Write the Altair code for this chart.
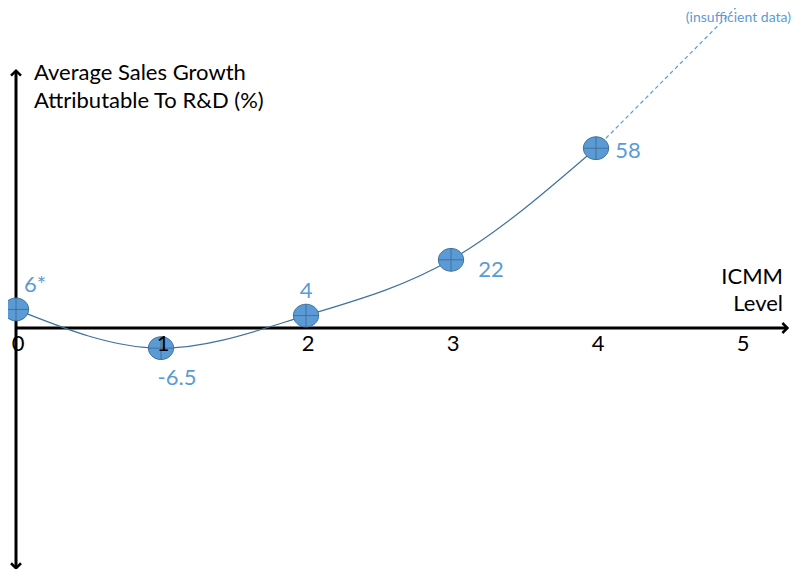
import altair as alt
import pandas as pd

# ---- data ----
levels = [0, 1, 2, 3, 4]
growth = [6, -6.5, 4, 22, 58]
point_labels = ["6*", "-6.5", "4", "22", "58"]
tick_levels = [0, 1, 2, 3, 4, 5]
ext_levels = [4, 5.0]
ext_growth = [58, 105]

# ---- layout / style ----
W, H = 785, 561
X0, PXX = 8, 145.0          # pixel of level 0, pixels per level
Y0, PXY = 320, 3.1          # pixel of growth 0, pixels per %
xdom = [-X0 / PXX, (W - X0) / PXX]
ydom = [-(H - Y0) / PXY, Y0 / PXY]
xs = alt.Scale(domain=xdom, nice=False, zero=False)
ys = alt.Scale(domain=ydom, nice=False, zero=False)
FONT = "Lato"
BLUE = "#5B9BD5"
DARK = "#41719C"
label_offsets = [(19, -24), (16, 30), (0, -25), (40, 10), (32, 3)]

pts = pd.DataFrame({"level": levels, "growth": growth, "label": point_labels})
ext = pd.DataFrame({"level": ext_levels, "growth": ext_growth})
ticks = pd.DataFrame({"level": tick_levels, "t": [str(t) for t in tick_levels]})

X = lambda f="level": alt.X(f, type="quantitative", scale=xs, axis=None)
Y = lambda f="growth": alt.Y(f, type="quantitative", scale=ys, axis=None)

# axes (arrows)
yaxis = pd.DataFrame({"level": [0], "y1": [-77.5], "y2": [83.0]})
xaxis = pd.DataFrame({"growth": [0], "x1": [0], "x2": [5.32]})
y_rule = alt.Chart(yaxis).mark_rule(color="black", strokeWidth=3).encode(
    x=X(), y=Y("y1"), y2="y2")
x_rule = alt.Chart(xaxis).mark_rule(color="black", strokeWidth=3).encode(
    y=Y(), x=X("x1"), x2="x2")
up = alt.Chart(yaxis).mark_point(shape="M-1,1L0,0L1,1", filled=False, size=100,
                                 color="black", strokeWidth=2.5, opacity=1).encode(x=X(), y=Y("y2"))
down = alt.Chart(yaxis).mark_point(shape="M-1,-1L0,0L1,-1", filled=False, size=100,
                                   color="black", strokeWidth=2.5, opacity=1).encode(x=X(), y=Y("y1"))
right = alt.Chart(xaxis).mark_point(shape="M-1,-1L0,0L-1,1", filled=False, size=100,
                                    color="black", strokeWidth=2.5, opacity=1).encode(x=X("x2"), y=Y())

tick_text = alt.Chart(ticks).mark_text(font=FONT, fontSize=22, color="black", dx=2,
                                       baseline="middle", align="center").encode(
    x=X(), y=alt.value(336), text="t:N")

curve = alt.Chart(pts).mark_line(color=DARK, strokeWidth=1.2, interpolate="monotone").encode(
    x=X(), y=Y())
dashed = alt.Chart(ext).mark_line(color=BLUE, strokeWidth=1.2, strokeDash=[4, 3]).encode(
    x=X(), y=Y())

ellipse = "M-1,0A1,0.9 0 1,1 1,0A1,0.9 0 1,1 -1,0Z"
markers = alt.Chart(pts).mark_point(shape=ellipse, filled=True, size=640, fill=BLUE,
                                    stroke=DARK, strokeWidth=1, opacity=1, fillOpacity=1).encode(
    x=X(), y=Y())
cross = alt.Chart(pts).mark_point(shape="M-1,0L1,0M0,-0.9L0,0.9", filled=False, size=640,
                                  color=DARK, strokeWidth=1, opacity=1).encode(x=X(), y=Y())

lbls = []
for lv, (dx, dy) in zip(levels, label_offsets):
    lbls.append(alt.Chart(pts).transform_filter(alt.datum.level == lv).mark_text(
        font=FONT, fontSize=22, color=BLUE, dx=dx, dy=dy, align="center", baseline="middle"
    ).encode(x=X(), y=Y(), text="label:N"))

def txt(s, x, y, align="left", size=22, color="black", baseline="alphabetic"):
    return alt.Chart(pd.DataFrame({"s": [s]})).mark_text(
        font=FONT, fontSize=size, color=color, align=align, baseline=baseline
    ).encode(x=alt.value(x), y=alt.value(y), text="s:N")

titles = [
    txt("Average Sales Growth", 26, 72),
    txt("Attributable To R&D (%)", 26, 100),
    txt("ICMM", 775, 276, align="right"),
    txt("Level", 775, 303, align="right"),
    txt("(insufficient data)", 783, 10, align="right", size=14, color=BLUE, baseline="middle"),
]

chart = alt.layer(y_rule, x_rule, up, down, right, dashed, curve, markers, cross, tick_text,
                  *lbls, *titles).properties(
    width=W, height=H, autosize=alt.AutoSizeParams(type="none"), padding=0
).configure_view(stroke=None)

chart.save("out.html", embed_options={"renderer": "svg", "actions": False})
